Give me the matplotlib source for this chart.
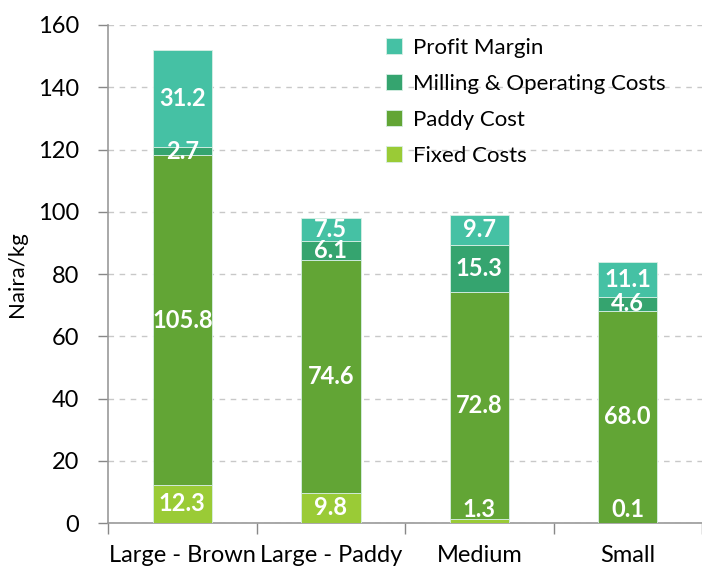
import matplotlib
matplotlib.use("Agg")
import matplotlib.pyplot as plt
import numpy as np

categories = ["Large - Brown", "Large - Paddy", "Medium", "Small"]
fixed_costs = [12.3, 9.8, 1.3, 0.1]
paddy_cost = [105.8, 74.6, 72.8, 68.0]
milling_costs = [2.7, 6.1, 15.3, 4.6]
profit_margin = [31.2, 7.5, 9.7, 11.1]

series = [
    ("Fixed Costs", fixed_costs, "#9ACB36"),
    ("Paddy Cost", paddy_cost, "#62A535"),
    ("Milling & Operating Costs", milling_costs, "#35A46F"),
    ("Profit Margin", profit_margin, "#45C1A4"),
]

plt.rcParams["font.family"] = ["Lato", "DejaVu Sans"]

fig = plt.figure(figsize=(7.02, 5.68), dpi=100)
ax = fig.add_axes([0.154, 0.079, 0.846, 0.877])

x = np.arange(len(categories))
bottom = np.zeros(len(categories))
handles = []
for name, vals, color in series:
    vals = np.array(vals)
    bars = ax.bar(x, vals, 0.4, bottom=bottom, color=color, edgecolor="#d8efe5",
                  linewidth=0.6, label=name, zorder=3)
    handles.append(bars)
    for xi, b, v in zip(x, bottom, vals):
        # tiny bottom segments: Excel pushes the label up a little
        y = max(b + v / 2, b + 4.5) if v < 3 and b == 0 else b + v / 2
        ax.text(xi, y, f"{v:.1f}", ha="center", va="center", color="white",
                fontsize=17, fontweight="bold", zorder=4, clip_on=True)
    bottom += vals

ax.set_xlim(-0.5, 3.5)
ax.set_ylim(0, 160)
ax.set_yticks(np.arange(0, 161, 20))
ax.tick_params(axis="y", labelsize=17, length=7, color="#888888", width=1, pad=14)
ax.yaxis.grid(True, linestyle=(0, (4, 4)), color="#c8c8c8", linewidth=1, zorder=0)
ax.set_axisbelow(True)

ax.set_xticks(x)
ax.set_xticklabels(categories, fontsize=17)
ax.tick_params(axis="x", which="major", length=0, pad=16)
ax.set_xticks(np.arange(-0.5, 3.6, 1.0), minor=True)
ax.tick_params(axis="x", which="minor", length=8, color="#888888", width=1)

for s in ["top", "right"]:
    ax.spines[s].set_visible(False)
for s in ["left", "bottom"]:
    ax.spines[s].set_color("#999999")
    ax.spines[s].set_linewidth(1.2)

ax.set_ylabel("Naira/kg", fontsize=16, labelpad=8)

ax.legend(handles[::-1], [s[0] for s in series][::-1], loc="upper left",
          bbox_to_anchor=(0.435, 1.015), frameon=False, fontsize=16,
          handlelength=0.7, handleheight=0.7, handletextpad=0.5, labelspacing=0.72)

fig.savefig("out.png", dpi=100)
